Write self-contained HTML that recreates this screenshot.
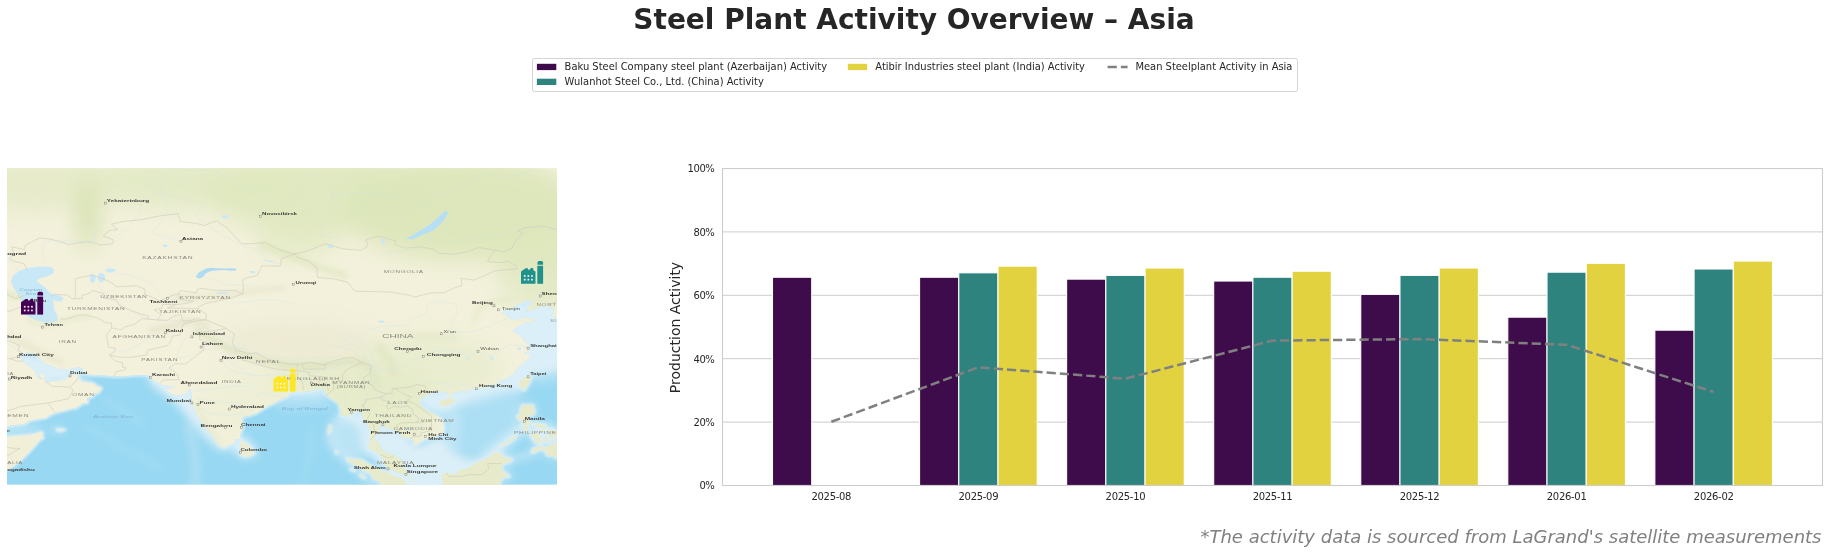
<!DOCTYPE html>
<html lang="en"><head><meta charset="utf-8"><title>Steel Plant Activity Overview – Asia</title>
<style>html,body{margin:0;padding:0;background:#fff}body{width:1828px;height:554px;overflow:hidden}svg{display:block;will-change:transform}</style>
</head><body>
<svg width="1828" height="554" viewBox="0 0 1828 554">
<rect width="1828" height="554" fill="#fff"/>
<text x="914" y="29.2" text-anchor="middle" font-family="DejaVu Sans, Liberation Sans, sans-serif" font-weight="bold" font-size="28" fill="#262626">Steel Plant Activity Overview – Asia</text>
<g id="legend" font-family="DejaVu Sans, Liberation Sans, sans-serif" font-size="9.94" fill="#262626">
<rect x="532.5" y="58.5" width="765" height="33" rx="2" ry="2" fill="#fff" stroke="#d4d4d4" stroke-width="1"/>
<rect x="536.9" y="63.8" width="19.4" height="6.3" fill="#3e0c4a"/>
<text x="564.6" y="70.2">Baku Steel Company steel plant (Azerbaijan) Activity</text>
<rect x="536.9" y="78.7" width="19.4" height="6.3" fill="#2f837f"/>
<text x="564.6" y="85">Wulanhot Steel Co., Ltd. (China) Activity</text>
<rect x="847.8" y="63.8" width="19.4" height="6.3" fill="#e2d240"/>
<text x="875.3" y="70.2">Atibir Industries steel plant (India) Activity</text>
<line x1="1107.6" x2="1127.6" y1="66.9" y2="66.9" stroke="#808080" stroke-width="2.5" stroke-dasharray="9.25 4"/>
<text x="1135.4" y="70.2">Mean Steelplant Activity in Asia</text>
</g>
<text x="1821.5" y="542.7" text-anchor="end" font-family="DejaVu Sans, Liberation Sans, sans-serif" font-style="italic" font-size="18" fill="#808080">*The activity data is sourced from LaGrand's satellite measurements</text>
<g id="map">
<defs>
<clipPath id="mclip"><rect x="7.0" y="168.2" width="550.0" height="316.40000000000003"/></clipPath>
<clipPath id="oclip"><path d="M-0.6,428.3 L7.0,426.3 L16.7,425.1 L25.0,423.8 L29.1,421.3 L37.4,419.3 L46.4,418.0 L49.2,415.5 L55.4,413.0 L61.6,411.4 L69.9,409.3 L77.5,407.6 L82.4,403.4 L87.9,403.0 L87.2,397.9 L92.7,397.0 L94.8,393.6 L99.0,392.7 L101.7,388.0 L96.2,385.4 L93.4,383.2 L87.9,382.3 L82.4,381.5 L79.6,379.3 L77.5,375.7 L78.6,371.3 L76.1,372.6 L74.8,374.0 L70.6,375.7 L64.4,379.7 L54.7,381.0 L46.4,381.5 L43.6,379.3 L45.0,377.1 L44.3,373.1 L42.3,372.2 L39.5,374.8 L39.5,377.9 L36.7,376.2 L35.3,371.3 L31.2,367.3 L25.7,364.1 L22.9,360.9 L20.1,357.7 L19.4,355.0 L24.3,354.5 L27.1,352.6 L34.7,354.0 L39.5,358.6 L45.0,364.1 L51.9,365.9 L58.2,369.1 L66.5,369.9 L72.7,368.6 L77.5,367.5 L82.4,368.2 L83.1,372.6 L87.9,374.4 L96.2,375.3 L107.3,375.7 L114.2,376.6 L119.0,376.6 L130.8,375.7 L141.1,375.3 L148.0,375.3 L149.4,377.5 L151.5,377.9 L155.0,381.9 L159.8,383.2 L163.9,385.8 L174.3,386.2 L172.2,388.0 L164.6,388.8 L170.2,393.6 L175.0,395.3 L179.2,395.7 L186.8,393.6 L188.1,390.6 L190.2,389.3 L191.6,394.0 L191.6,403.0 L195.1,411.4 L198.5,417.6 L202.7,423.8 L205.4,428.3 L212.3,435.3 L215.8,440.6 L220.0,446.3 L224.4,448.0 L228.9,445.0 L234.5,443.0 L235.9,439.0 L240.3,439.0 L240.3,434.1 L243.5,427.5 L242.1,419.7 L243.5,416.8 L249.0,416.0 L257.3,413.0 L264.2,408.4 L275.3,402.5 L281.5,399.6 L288.4,396.6 L289.8,393.2 L296.7,392.3 L303.6,391.9 L312.6,391.0 L317.4,388.8 L323.0,389.3 L325.7,394.4 L330.6,398.3 L338.2,403.8 L340.9,411.4 L340.3,415.5 L347.2,416.4 L353.4,413.5 L358.2,410.1 L361.0,413.5 L363.8,419.7 L367.2,423.8 L370.0,430.4 L370.0,438.2 L368.6,444.2 L367.9,448.3 L374.8,451.5 L380.4,454.7 L382.1,458.8 L384.5,464.4 L388.7,468.8 L394.9,471.6 L403.2,474.8 L408.0,475.2 L408.7,470.8 L403.2,468.4 L403.2,463.6 L401.1,458.8 L394.9,455.5 L388.7,452.7 L383.8,451.5 L380.4,446.3 L379.0,442.6 L374.1,438.2 L378.3,432.9 L379.7,429.2 L379.7,426.7 L383.1,425.9 L385.9,426.7 L385.9,429.2 L391.4,429.6 L397.6,432.0 L400.4,436.1 L404.6,438.2 L410.8,438.6 L414.2,440.6 L412.9,445.9 L417.0,444.6 L426.0,439.0 L429.4,438.6 L435.7,436.5 L441.9,434.5 L444.0,430.4 L444.0,424.6 L441.2,418.4 L436.4,415.1 L428.8,411.4 L423.9,408.0 L419.8,403.8 L420.5,399.1 L425.3,396.6 L427.4,394.9 L430.8,393.6 L435.0,392.3 L439.1,391.4 L442.6,392.3 L446.0,392.3 L447.4,393.2 L446.7,397.4 L450.2,397.4 L451.6,393.6 L461.2,391.4 L470.9,390.1 L473.7,387.5 L477.8,388.8 L486.8,387.1 L495.1,384.5 L504.8,379.3 L513.1,374.8 L515.2,372.2 L517.9,368.2 L522.8,363.6 L529.0,358.6 L531.1,355.0 L524.2,353.1 L531.1,350.3 L524.9,346.1 L531.1,346.6 L524.2,340.9 L520.0,334.7 L513.1,331.7 L513.1,330.3 L520.0,325.4 L524.9,322.9 L535.2,321.4 L535.9,318.9 L527.6,317.9 L522.8,316.9 L517.3,319.4 L511.0,319.9 L510.3,317.4 L512.4,316.3 L504.1,314.8 L502.0,312.3 L502.0,310.2 L507.6,310.2 L513.1,308.1 L515.2,306.1 L524.2,301.9 L526.2,300.8 L532.5,301.9 L527.6,307.6 L526.2,311.8 L531.8,310.2 L538.7,307.6 L547.7,306.1 L550.4,307.6 L553.9,308.1 L552.5,310.7 L554.6,312.3 L550.4,315.3 L555.3,316.9 L562.9,317.4 L569.8,317.4 L569.8,492.4 L-7.5,492.4 L-7.5,430.0Z"/></clipPath>
<filter id="b6" x="-20%" y="-20%" width="140%" height="140%"><feGaussianBlur stdDeviation="5"/></filter>
<filter id="b14" x="-30%" y="-30%" width="160%" height="160%"><feGaussianBlur stdDeviation="11"/></filter>
<filter id="b3" x="-20%" y="-20%" width="140%" height="140%"><feGaussianBlur stdDeviation="2.6"/></filter>
<filter id="b5" x="-20%" y="-20%" width="140%" height="140%"><feGaussianBlur stdDeviation="4.2"/></filter>
<filter id="b1" x="-5%" y="-5%" width="110%" height="110%"><feGaussianBlur stdDeviation="1.1"/></filter>
</defs>
<g clip-path="url(#mclip)">
<rect x="7.0" y="168.2" width="550.0" height="316.40000000000003" fill="#f3f1dc"/>
<g filter="url(#b14)">
<ellipse cx="34.0" cy="182.5" rx="60" ry="30" fill="#e3eac6" opacity="0.8"/>
<ellipse cx="87.9" cy="206.6" rx="9" ry="44" fill="#cddca3" opacity="0.95"/>
<ellipse cx="186.1" cy="182.5" rx="110" ry="26" fill="#e0e9c2" opacity="0.85"/>
<ellipse cx="324.4" cy="194.1" rx="120" ry="40" fill="#dfe8bf" opacity="0.9"/>
<ellipse cx="462.6" cy="208.8" rx="120" ry="52" fill="#dce6b9" opacity="0.95"/>
<ellipse cx="545.6" cy="254.9" rx="50" ry="50" fill="#dee7bd" opacity="0.9"/>
<ellipse cx="296.7" cy="239.3" rx="40" ry="18" fill="#dfe8bf" opacity="0.7"/>
<ellipse cx="421.1" cy="368.2" rx="80" ry="34" fill="#e6ebcb" opacity="0.7"/>
<ellipse cx="379.7" cy="407.2" rx="60" ry="40" fill="#e3e9c5" opacity="0.75"/>
<ellipse cx="310.5" cy="379.3" rx="45" ry="18" fill="#e3e9c5" opacity="0.75"/>
<ellipse cx="241.4" cy="403.0" rx="34" ry="34" fill="#ebeed2" opacity="0.6"/>
<ellipse cx="476.5" cy="472.4" rx="40" ry="30" fill="#e0e8c0" opacity="0.8"/>
<ellipse cx="379.7" cy="476.4" rx="40" ry="25" fill="#e0e8c0" opacity="0.8"/>
<ellipse cx="296.7" cy="340.4" rx="80" ry="18" fill="#ece8d2" opacity="0.8"/>
<ellipse cx="531.8" cy="294.9" rx="30" ry="25" fill="#e6ebcb" opacity="0.7"/>
</g>
<g clip-path="url(#oclip)">
<rect x="7.0" y="168.2" width="550.0" height="316.40000000000003" fill="#98d8f2"/>
<g filter="url(#b5)">
<g fill="#dbeff8">
<path d="M13.2,349.9 L47.8,356.8 L83.7,363.6 L81.7,371.3 L78.9,376.2 L77.5,381.5 L34.0,385.8 L13.2,368.2Z"/>
<path d="M146.7,374.4 L148.7,380.6 L152.9,386.2 L159.8,391.9 L168.8,397.9 L175.7,403.8 L182.6,411.4 L189.5,419.7 L196.4,427.9 L203.4,436.1 L210.3,442.2 L215.8,447.5 L222.0,450.3 L227.6,450.3 L234.5,444.2 L227.6,432.0 L206.8,415.5 L199.9,390.1 L172.2,379.3Z"/>
<path d="M231.0,437.7 L246.2,436.5 L249.7,442.2 L257.3,448.3 L257.3,453.9 L249.7,458.2 L240.7,458.2 L235.9,452.7 L231.7,447.5 L226.2,449.9 L222.7,449.9Z"/>
<path d="M284.9,394.9 L293.2,396.2 L303.6,395.7 L314.0,395.3 L323.7,395.7 L327.1,392.3 L324.4,385.8 L296.7,386.7 L284.9,391.9Z"/>
<path d="M337.5,413.0 L338.2,418.4 L345.1,421.3 L354.1,423.8 L358.9,427.9 L361.0,436.1 L361.7,444.2 L363.1,449.1 L367.9,453.1 L372.8,458.0 L376.9,462.8 L383.8,468.4 L390.7,473.2 L400.4,476.8 L410.8,480.4 L407.3,472.4 L386.6,452.3 L372.8,432.0 L365.8,411.4 L345.1,409.3Z"/>
<path d="M372.8,423.8 L390.0,423.8 L407.3,436.1 L417.7,446.3 L428.1,440.2 L443.3,436.1 L446.0,444.2 L448.1,450.3 L455.7,454.7 L464.7,458.4 L473.7,458.8 L482.0,456.3 L490.3,450.7 L498.6,448.7 L504.1,456.3 L490.3,472.4 L462.6,492.4 L393.5,492.4 L379.7,460.4Z"/>
<path d="M417.7,391.0 L417.7,405.1 L428.1,411.8 L439.1,414.3 L445.3,412.6 L450.9,409.3 L459.2,405.9 L469.5,400.8 L483.4,396.6 L497.2,393.2 L511.0,390.6 L521.4,390.6 L524.2,389.3 L531.8,377.1 L535.9,375.3 L549.1,373.5 L569.8,368.2 L569.8,300.3 L497.2,300.3 L497.2,354.5 L462.6,385.8Z"/>
<path d="M521.4,424.2 L549.1,424.2 L558.0,428.8 L558.0,441.0 L544.2,444.2 L538.0,444.2 L532.5,439.0 L527.6,432.9 L520.7,430.0Z"/>
<path d="M47.8,429.0 L58.2,428.1 L67.2,429.2 L65.8,431.6 L56.1,431.6 L47.8,430.8Z"/>
<path d="M-14.4,425.5 L20.1,423.0 L40.9,426.3 L43.6,431.2 L20.1,435.3 L-14.4,438.6Z" opacity="0.5"/>
<path d="M77.5,369.1 L90.7,374.4 L92.0,380.6 L77.5,380.6Z" opacity="0.5"/>
<path d="M331.3,421.8 L352.0,417.6 L369.3,423.8 L369.3,456.3 L352.0,460.4 L334.7,454.3 L327.8,440.2Z" opacity="0.5"/>
<path d="M272.5,396.6 L331.3,394.4 L332.6,407.2 L303.6,410.1 L276.0,408.9Z" opacity="0.32"/>
<path d="M438.4,411.4 L459.2,409.3 L461.2,423.8 L459.2,440.2 L455.7,452.3 L469.5,460.4 L435.0,456.3 L438.4,436.1Z" opacity="0.4"/>
<path d="M448.8,405.1 L469.5,406.3 L490.3,400.4 L511.0,395.3 L524.9,393.6 L524.9,385.8 L448.8,390.1Z" opacity="0.4"/>
<path d="M479.9,450.3 L493.7,442.2 L507.6,432.9 L516.6,423.8 L524.9,423.8 L517.9,440.2 L500.7,452.3 L483.4,458.4Z" opacity="0.4"/>
<path d="M445.3,450.3 L448.8,432.0 L448.8,415.5 L462.6,405.1 L490.3,396.6 L517.9,393.2 L517.9,415.5 L516.6,425.9 L507.6,436.1 L493.7,446.3 L476.5,454.3 L459.2,457.1Z" opacity="0.3"/>
<path d="M531.8,377.1 L569.8,363.6 L569.8,379.3 L538.7,384.9Z" opacity="0.3"/>
</g>
<g fill="none" stroke="#dbeff8" stroke-linecap="round" stroke-linejoin="round">
<path d="M187.5,424.6 L190.9,435.3 L193.7,448.3 L195.8,460.4 L195.8,472.4 L195.1,483.6 L194.4,492.4" stroke-width="5.0" opacity="0.55"/>
<path d="M336.1,420.1 L330.6,427.1 L329.2,435.3 L331.3,443.4 L336.8,451.5 L342.3,456.3 L346.5,457.6" stroke-width="4.5" opacity="0.8"/>
<path d="M347.2,460.4 L354.8,467.2 L362.4,474.0 L369.3,480.4 L377.6,486.4 L383.1,492.4" stroke-width="6.0" opacity="0.8"/>
<path d="M496.5,449.9 L506.2,442.2 L514.5,435.3 L520.7,430.4" stroke-width="9.0" opacity="0.9"/>
<path d="M511.0,459.6 L521.4,457.1 L531.1,453.9" stroke-width="5.0" opacity="0.8"/>
<path d="M517.9,424.6 L517.3,414.7 L520.0,404.6 L526.9,403.4 L534.5,405.5" stroke-width="3.0" opacity="0.7"/>
<path d="M534.5,405.5 L535.9,413.5 L530.4,419.7 L535.2,423.0 L547.7,425.9 L558.0,430.0" stroke-width="3.0" opacity="0.7"/>
<path d="M559.4,441.0 L565.0,450.3 L561.5,456.3 L556.0,458.8 L545.6,456.3 L544.2,450.7 L531.8,453.1 L531.8,448.3 L540.8,445.0" stroke-width="3.0" opacity="0.7"/>
<path d="M502.0,454.3 L513.8,459.6 L504.1,464.4 L502.7,471.2 L511.0,476.4 L501.4,478.4 L500.7,484.4 L493.7,488.4" stroke-width="4.0" opacity="0.8"/>
<path d="M103.1,398.7 L120.4,409.3 L134.2,417.6 L144.6,425.9" stroke-width="3.5" opacity="0.25"/>
<path d="M85.8,425.9 L103.1,436.1 L123.8,448.3 L144.6,458.4 L161.9,468.4" stroke-width="4.0" opacity="0.22"/>
<path d="M300.2,492.4 L307.1,468.4 L310.5,444.2 L310.5,423.8" stroke-width="3.5" opacity="0.2"/>
</g>
</g>
<path d="M-0.6,428.3 L7.0,426.3 L16.7,425.1 L25.0,423.8 L29.1,421.3 L37.4,419.3 L46.4,418.0 L49.2,415.5 L55.4,413.0 L61.6,411.4 L69.9,409.3 L77.5,407.6 L82.4,403.4 L87.9,403.0 L87.2,397.9 L92.7,397.0 L94.8,393.6 L99.0,392.7 L101.7,388.0 L96.2,385.4 L93.4,383.2 L87.9,382.3 L82.4,381.5 L79.6,379.3 L77.5,375.7 L78.6,371.3 L76.1,372.6 L74.8,374.0 L70.6,375.7 L64.4,379.7 L54.7,381.0 L46.4,381.5 L43.6,379.3 L45.0,377.1 L44.3,373.1 L42.3,372.2 L39.5,374.8 L39.5,377.9 L36.7,376.2 L35.3,371.3 L31.2,367.3 L25.7,364.1 L22.9,360.9 L20.1,357.7 L19.4,355.0 L24.3,354.5 L27.1,352.6 L34.7,354.0 L39.5,358.6 L45.0,364.1 L51.9,365.9 L58.2,369.1 L66.5,369.9 L72.7,368.6 L77.5,367.5 L82.4,368.2 L83.1,372.6 L87.9,374.4 L96.2,375.3 L107.3,375.7 L114.2,376.6 L119.0,376.6 L130.8,375.7 L141.1,375.3 L148.0,375.3 L149.4,377.5 L151.5,377.9 L155.0,381.9 L159.8,383.2 L163.9,385.8 L174.3,386.2 L172.2,388.0 L164.6,388.8 L170.2,393.6 L175.0,395.3 L179.2,395.7 L186.8,393.6 L188.1,390.6 L190.2,389.3 L191.6,394.0 L191.6,403.0 L195.1,411.4 L198.5,417.6 L202.7,423.8 L205.4,428.3 L212.3,435.3 L215.8,440.6 L220.0,446.3 L224.4,448.0 L228.9,445.0 L234.5,443.0 L235.9,439.0 L240.3,439.0 L240.3,434.1 L243.5,427.5 L242.1,419.7 L243.5,416.8 L249.0,416.0 L257.3,413.0 L264.2,408.4 L275.3,402.5 L281.5,399.6 L288.4,396.6 L289.8,393.2 L296.7,392.3 L303.6,391.9 L312.6,391.0 L317.4,388.8 L323.0,389.3 L325.7,394.4 L330.6,398.3 L338.2,403.8 L340.9,411.4 L340.3,415.5 L347.2,416.4 L353.4,413.5 L358.2,410.1 L361.0,413.5 L363.8,419.7 L367.2,423.8 L370.0,430.4 L370.0,438.2 L368.6,444.2 L367.9,448.3 L374.8,451.5 L380.4,454.7 L382.1,458.8 L384.5,464.4 L388.7,468.8 L394.9,471.6 L403.2,474.8 L408.0,475.2 L408.7,470.8 L403.2,468.4 L403.2,463.6 L401.1,458.8 L394.9,455.5 L388.7,452.7 L383.8,451.5 L380.4,446.3 L379.0,442.6 L374.1,438.2 L378.3,432.9 L379.7,429.2 L379.7,426.7 L383.1,425.9 L385.9,426.7 L385.9,429.2 L391.4,429.6 L397.6,432.0 L400.4,436.1 L404.6,438.2 L410.8,438.6 L414.2,440.6 L412.9,445.9 L417.0,444.6 L426.0,439.0 L429.4,438.6 L435.7,436.5 L441.9,434.5 L444.0,430.4 L444.0,424.6 L441.2,418.4 L436.4,415.1 L428.8,411.4 L423.9,408.0 L419.8,403.8 L420.5,399.1 L425.3,396.6 L427.4,394.9 L430.8,393.6 L435.0,392.3 L439.1,391.4 L442.6,392.3 L446.0,392.3 L447.4,393.2 L446.7,397.4 L450.2,397.4 L451.6,393.6 L461.2,391.4 L470.9,390.1 L473.7,387.5 L477.8,388.8 L486.8,387.1 L495.1,384.5 L504.8,379.3 L513.1,374.8 L515.2,372.2 L517.9,368.2 L522.8,363.6 L529.0,358.6 L531.1,355.0 L524.2,353.1 L531.1,350.3 L524.9,346.1 L531.1,346.6 L524.2,340.9 L520.0,334.7 L513.1,331.7 L513.1,330.3 L520.0,325.4 L524.9,322.9 L535.2,321.4 L535.9,318.9 L527.6,317.9 L522.8,316.9 L517.3,319.4 L511.0,319.9 L510.3,317.4 L512.4,316.3 L504.1,314.8 L502.0,312.3 L502.0,310.2 L507.6,310.2 L513.1,308.1 L515.2,306.1 L524.2,301.9 L526.2,300.8 L532.5,301.9 L527.6,307.6 L526.2,311.8 L531.8,310.2 L538.7,307.6 L547.7,306.1 L550.4,307.6 L553.9,308.1 L552.5,310.7 L554.6,312.3 L550.4,315.3 L555.3,316.9 L562.9,317.4 M-7.5,492.4 L-7.5,475.6 L1.5,472.4 L7.0,470.0 L16.0,464.4 L21.5,459.6 L27.1,454.3 L32.6,448.3 L37.4,443.0 L41.6,438.6 L43.6,438.4 L41.9,435.7 L43.0,432.6 L39.5,432.2 L34.7,434.1 L27.1,434.9 L20.1,435.7 L13.2,436.1 L7.0,436.9 L-7.5,438.6Z M240.3,441.4 L243.5,441.4 L247.6,444.6 L250.4,446.7 L254.2,451.1 L253.1,454.3 L249.0,455.9 L244.8,456.5 L241.7,455.9 L240.3,452.7 L240.0,448.7 L241.0,445.9 L239.7,443.4Z M346.5,458.0 L352.0,459.2 L361.7,459.6 L367.2,463.2 L371.4,465.6 L378.3,468.0 L382.4,471.2 L388.7,472.8 L395.6,476.4 L400.4,477.6 L404.6,480.0 L405.9,484.4 L410.8,488.4 L410.8,492.4 L381.0,492.4 L381.7,484.0 L377.6,480.8 L373.4,478.8 L370.7,474.0 L363.8,470.8 L359.6,467.6 L354.1,464.8 L347.9,460.8Z M441.9,492.4 L442.6,482.4 L441.9,478.8 L441.2,475.2 L444.7,472.8 L450.9,473.6 L455.7,474.4 L457.8,470.8 L464.7,468.8 L469.5,467.6 L475.8,462.8 L480.6,460.8 L486.1,458.8 L491.0,455.5 L495.1,452.3 L498.6,452.7 L502.0,454.7 L502.0,456.7 L506.9,457.6 L512.4,459.6 L508.3,462.4 L504.1,463.6 L501.4,466.0 L502.7,470.8 L504.1,472.4 L509.6,476.4 L503.4,477.2 L500.7,480.4 L500.0,484.4 L494.4,486.8 L493.1,492.4Z M439.5,402.1 L443.3,399.4 L448.8,398.5 L453.6,398.5 L455.7,400.4 L452.3,403.8 L448.8,405.5 L445.3,406.3 L439.8,405.1Z M524.9,376.8 L529.0,375.7 L531.4,377.1 L530.4,379.7 L529.0,383.2 L526.9,386.7 L523.8,390.4 L522.1,388.4 L519.3,386.2 L518.3,383.6 L520.0,380.6 L522.8,378.4Z M522.1,405.1 L526.9,405.1 L533.2,405.1 L533.8,409.3 L535.2,410.9 L533.2,414.7 L529.0,416.0 L528.3,419.7 L529.7,423.0 L533.8,423.8 L538.0,423.4 L540.8,424.6 L544.9,424.6 L546.3,427.9 L546.3,429.8 L544.2,428.3 L540.8,427.9 L535.9,427.1 L535.2,424.2 L530.4,424.2 L526.9,425.5 L522.4,424.4 L522.1,422.2 L524.2,420.9 L521.7,420.5 L518.6,419.7 L516.9,415.5 L520.0,415.1 L520.4,409.3Z M520.7,425.9 L524.9,426.1 L528.3,427.9 L528.0,430.8 L525.5,431.0 L523.5,429.2Z M498.6,446.7 L502.0,444.2 L506.9,441.4 L511.0,438.6 L513.8,434.9 L515.2,434.9 L515.2,437.7 L511.7,440.2 L509.0,442.6 L504.1,445.0 L500.7,446.7Z M531.1,432.4 L535.9,433.7 L539.4,434.1 L538.7,436.1 L535.9,437.7 L531.8,438.4 L531.4,436.1Z M534.5,440.4 L537.6,436.5 L540.8,436.3 L542.5,436.9 L540.1,440.2 L540.1,443.8 L538.0,444.0 L535.9,442.6Z M541.1,442.4 L542.8,439.8 L545.6,435.1 L546.3,436.1 L544.6,440.2 L542.1,442.4Z M547.7,429.8 L554.6,429.8 L556.7,432.0 L566.3,435.3 L566.3,436.5 L554.6,436.5 L552.9,434.9 L552.5,437.1 L554.2,439.2 L552.5,440.2 L550.8,438.6 L548.4,436.5 L548.4,434.3 L551.8,434.1 L551.1,432.4 L548.0,431.2Z M531.4,452.3 L532.5,448.7 L537.3,447.7 L541.5,445.5 L544.2,447.9 L547.7,446.1 L551.1,444.2 L556.0,444.0 L555.3,441.2 L566.3,441.0 L566.3,458.4 L555.3,458.0 L553.9,455.9 L547.0,455.5 L545.6,452.7 L547.0,450.7 L542.1,450.3 L541.5,449.1 L538.0,450.3 L533.8,452.7Z M544.2,441.0 L547.0,439.6 L549.7,440.4 L549.1,441.6 L545.6,441.8Z M540.1,429.8 L543.5,430.2 L545.9,432.4 L542.8,432.2 L540.1,431.6Z M56.8,429.6 L60.2,429.2 L65.1,429.8 L61.6,430.8 L57.5,430.6Z M329.9,425.5 L331.3,426.3 L330.9,430.0 L329.5,433.7 L328.5,433.7 L328.8,430.0Z M336.1,451.1 L337.8,451.9 L337.1,453.3 L335.8,452.7Z M350.6,468.8 L355.5,470.4 L354.1,471.0 L350.3,469.6Z M359.6,474.8 L362.4,474.6 L365.5,478.0 L363.1,478.2Z M407.3,475.6 L411.5,475.6 L412.2,476.8 L409.4,477.2Z M410.1,480.0 L414.2,480.8 L412.9,482.0 L410.1,481.6Z M435.0,463.6 L437.7,464.4 L437.1,466.0 L434.6,465.2Z" fill="none" stroke="#dbeff8" stroke-width="3.2" stroke-linejoin="round" filter="url(#b1)" opacity="0.9"/>
</g>
<g fill="#e7ebcc">
<path d="M-7.5,492.4 L-7.5,475.6 L1.5,472.4 L7.0,470.0 L16.0,464.4 L21.5,459.6 L27.1,454.3 L32.6,448.3 L37.4,443.0 L41.6,438.6 L43.6,438.4 L41.9,435.7 L43.0,432.6 L39.5,432.2 L34.7,434.1 L27.1,434.9 L20.1,435.7 L13.2,436.1 L7.0,436.9 L-7.5,438.6Z" fill="#f1efd8"/>
<path d="M240.3,441.4 L243.5,441.4 L247.6,444.6 L250.4,446.7 L254.2,451.1 L253.1,454.3 L249.0,455.9 L244.8,456.5 L241.7,455.9 L240.3,452.7 L240.0,448.7 L241.0,445.9 L239.7,443.4Z" fill="#ecedd2"/>
<path d="M346.5,458.0 L352.0,459.2 L361.7,459.6 L367.2,463.2 L371.4,465.6 L378.3,468.0 L382.4,471.2 L388.7,472.8 L395.6,476.4 L400.4,477.6 L404.6,480.0 L405.9,484.4 L410.8,488.4 L410.8,492.4 L381.0,492.4 L381.7,484.0 L377.6,480.8 L373.4,478.8 L370.7,474.0 L363.8,470.8 L359.6,467.6 L354.1,464.8 L347.9,460.8Z"/>
<path d="M441.9,492.4 L442.6,482.4 L441.9,478.8 L441.2,475.2 L444.7,472.8 L450.9,473.6 L455.7,474.4 L457.8,470.8 L464.7,468.8 L469.5,467.6 L475.8,462.8 L480.6,460.8 L486.1,458.8 L491.0,455.5 L495.1,452.3 L498.6,452.7 L502.0,454.7 L502.0,456.7 L506.9,457.6 L512.4,459.6 L508.3,462.4 L504.1,463.6 L501.4,466.0 L502.7,470.8 L504.1,472.4 L509.6,476.4 L503.4,477.2 L500.7,480.4 L500.0,484.4 L494.4,486.8 L493.1,492.4Z"/>
<path d="M439.5,402.1 L443.3,399.4 L448.8,398.5 L453.6,398.5 L455.7,400.4 L452.3,403.8 L448.8,405.5 L445.3,406.3 L439.8,405.1Z"/>
<path d="M524.9,376.8 L529.0,375.7 L531.4,377.1 L530.4,379.7 L529.0,383.2 L526.9,386.7 L523.8,390.4 L522.1,388.4 L519.3,386.2 L518.3,383.6 L520.0,380.6 L522.8,378.4Z"/>
<path d="M522.1,405.1 L526.9,405.1 L533.2,405.1 L533.8,409.3 L535.2,410.9 L533.2,414.7 L529.0,416.0 L528.3,419.7 L529.7,423.0 L533.8,423.8 L538.0,423.4 L540.8,424.6 L544.9,424.6 L546.3,427.9 L546.3,429.8 L544.2,428.3 L540.8,427.9 L535.9,427.1 L535.2,424.2 L530.4,424.2 L526.9,425.5 L522.4,424.4 L522.1,422.2 L524.2,420.9 L521.7,420.5 L518.6,419.7 L516.9,415.5 L520.0,415.1 L520.4,409.3Z"/>
<path d="M520.7,425.9 L524.9,426.1 L528.3,427.9 L528.0,430.8 L525.5,431.0 L523.5,429.2Z"/>
<path d="M498.6,446.7 L502.0,444.2 L506.9,441.4 L511.0,438.6 L513.8,434.9 L515.2,434.9 L515.2,437.7 L511.7,440.2 L509.0,442.6 L504.1,445.0 L500.7,446.7Z"/>
<path d="M531.1,432.4 L535.9,433.7 L539.4,434.1 L538.7,436.1 L535.9,437.7 L531.8,438.4 L531.4,436.1Z"/>
<path d="M534.5,440.4 L537.6,436.5 L540.8,436.3 L542.5,436.9 L540.1,440.2 L540.1,443.8 L538.0,444.0 L535.9,442.6Z"/>
<path d="M541.1,442.4 L542.8,439.8 L545.6,435.1 L546.3,436.1 L544.6,440.2 L542.1,442.4Z"/>
<path d="M547.7,429.8 L554.6,429.8 L556.7,432.0 L566.3,435.3 L566.3,436.5 L554.6,436.5 L552.9,434.9 L552.5,437.1 L554.2,439.2 L552.5,440.2 L550.8,438.6 L548.4,436.5 L548.4,434.3 L551.8,434.1 L551.1,432.4 L548.0,431.2Z"/>
<path d="M531.4,452.3 L532.5,448.7 L537.3,447.7 L541.5,445.5 L544.2,447.9 L547.7,446.1 L551.1,444.2 L556.0,444.0 L555.3,441.2 L566.3,441.0 L566.3,458.4 L555.3,458.0 L553.9,455.9 L547.0,455.5 L545.6,452.7 L547.0,450.7 L542.1,450.3 L541.5,449.1 L538.0,450.3 L533.8,452.7Z"/>
<path d="M544.2,441.0 L547.0,439.6 L549.7,440.4 L549.1,441.6 L545.6,441.8Z"/>
<path d="M540.1,429.8 L543.5,430.2 L545.9,432.4 L542.8,432.2 L540.1,431.6Z"/>
<path d="M56.8,429.6 L60.2,429.2 L65.1,429.8 L61.6,430.8 L57.5,430.6Z" fill="#f1efd8"/>
<path d="M329.9,425.5 L331.3,426.3 L330.9,430.0 L329.5,433.7 L328.5,433.7 L328.8,430.0Z"/>
<path d="M336.1,451.1 L337.8,451.9 L337.1,453.3 L335.8,452.7Z"/>
<path d="M350.6,468.8 L355.5,470.4 L354.1,471.0 L350.3,469.6Z"/>
<path d="M359.6,474.8 L362.4,474.6 L365.5,478.0 L363.1,478.2Z"/>
<path d="M407.3,475.6 L411.5,475.6 L412.2,476.8 L409.4,477.2Z"/>
<path d="M410.1,480.0 L414.2,480.8 L412.9,482.0 L410.1,481.6Z"/>
<path d="M435.0,463.6 L437.7,464.4 L437.1,466.0 L434.6,465.2Z"/>
</g>
<g fill="#c9e8f7">
<path d="M18.9,271.2 L27.1,267.9 L40.6,266.5 L51.4,267.2 L54.1,269.9 L52.8,274.0 L46.0,276.7 L40.6,278.0 L36.5,280.4 L40.6,284.1 L46.0,288.2 L49.4,292.2 L52.8,294.3 L59.6,295.6 L63.6,298.3 L60.9,301.7 L55.5,301.0 L53.1,298.6 L53.5,302.4 L54.1,309.1 L56.9,314.6 L58.2,320.0 L54.1,322.7 L46.0,322.7 L37.9,320.7 L31.1,317.9 L24.4,314.6 L21.7,309.1 L21.5,305.6 L35.5,303.6 L21.0,301.8 L17.6,294.3 L12.9,286.8 L10.8,280.7 L13.5,275.3Z"/>
<path d="M107.3,268.6 L114.2,268.6 L116.2,271.0 L110.0,272.7 L105.2,271.0Z"/>
<path d="M90.3,275.0 L93.4,274.1 L95.8,276.7 L95.2,280.6 L93.1,283.2 L90.3,281.8 L90.0,278.4Z"/>
<path d="M98.3,273.5 L102.4,273.0 L105.2,276.1 L104.8,280.1 L101.7,282.6 L98.6,281.2 L97.9,277.3Z"/>
<path d="M195.8,276.7 L199.2,278.7 L202.7,277.3 L206.1,273.3 L211.0,271.0 L217.2,270.4 L224.1,270.1 L231.0,270.7 L235.9,270.4 L236.5,268.6 L231.7,268.3 L224.8,268.6 L217.9,268.3 L211.0,267.8 L206.1,268.6 L201.3,271.0 L197.8,273.3Z" fill="#b0dbf3"/>
<path d="M215.1,292.8 L222.0,291.4 L229.6,292.0 L228.2,293.6 L220.6,294.1Z"/>
<path d="M405.9,238.6 L411.5,239.6 L418.4,236.7 L425.3,233.4 L432.9,230.8 L438.4,226.1 L444.0,220.0 L448.1,213.1 L446.0,210.2 L441.9,213.8 L437.1,218.6 L430.8,224.1 L424.6,228.1 L417.7,232.1 L411.5,236.0Z" fill="#b4dff5"/>
<path d="M376.9,321.4 L381.7,319.9 L385.2,321.4 L381.7,322.9Z"/>
<path d="M249.7,271.0 L254.5,271.0 L255.2,273.3 L251.1,273.3Z"/>
<path d="M263.5,260.4 L273.2,261.0 L272.5,262.1 L264.9,261.5Z"/>
<path d="M381.7,238.6 L384.5,239.3 L384.5,245.6 L382.4,245.0Z"/>
<path d="M327.1,245.6 L333.3,245.6 L332.6,248.1 L327.8,247.8Z"/>
<path d="M222.0,215.2 L228.9,215.2 L227.6,218.6 L222.7,217.9Z"/>
<path d="M162.6,244.4 L168.1,245.0 L166.7,246.9 L163.3,246.9Z"/>
<path d="M490.3,356.8 L493.7,357.7 L493.1,360.0 L490.3,359.5Z"/>
<path d="M466.8,357.7 L470.2,357.7 L469.5,359.5 L466.8,359.5Z"/>
<path d="M517.3,347.5 L521.4,348.0 L520.7,349.9 L517.9,349.9Z"/>
<path d="M405.2,427.1 L409.4,428.8 L411.5,430.4 L408.7,430.4 L405.2,428.3Z"/>
</g>
<g fill="none" stroke-linejoin="round" stroke-linecap="round" filter="url(#b3)">
<path d="M196.4,330.8 L213.7,340.4 L231.0,349.9 L248.3,356.8 L269.0,362.3 L289.8,365.5 L310.5,365.9 L331.3,364.5 L348.6,361.4 L362.4,363.6" stroke="#dbe2bd" stroke-width="5" opacity="0.85"/>
<path d="M362.4,363.6 L372.8,372.6 L376.2,383.6" stroke="#dde4c0" stroke-width="8" opacity="0.6"/>
<path d="M379.7,347.5 L390.0,361.4 L393.5,372.6" stroke="#dde4c0" stroke-width="8" opacity="0.6"/>
<path d="M151.5,330.8 L172.2,325.9 L189.5,320.9 L206.8,325.9" stroke="#e4e0c6" stroke-width="6" opacity="0.7"/>
<path d="M172.2,297.6 L199.9,297.6 L227.6,294.9 L255.2,290.6 L282.9,287.9" stroke="#e2e3c6" stroke-width="5" opacity="0.6"/>
<path d="M262.1,245.6 L289.8,254.9 L317.4,266.9 L345.1,275.6" stroke="#dbe4bb" stroke-width="6" opacity="0.6"/>
<path d="M9.8,335.6 L27.1,345.2 L44.3,354.5 L61.6,362.3" stroke="#e5e2c8" stroke-width="6" opacity="0.6"/>
<path d="M27.1,320.9 L47.8,325.9 L68.5,319.4 L89.3,316.9" stroke="#dde4c0" stroke-width="3" opacity="0.7"/>
<path d="M196.4,403.0 L203.4,419.7 L213.7,434.1 L220.6,444.2" stroke="#dde5c0" stroke-width="3" opacity="0.7"/>
<path d="M407.3,335.6 L435.0,336.6 L455.7,338.0" stroke="#dde5c0" stroke-width="4" opacity="0.6"/>
<path d="M473.0,320.9 L479.9,308.1 L493.7,301.3 L507.6,299.2" stroke="#dee6c2" stroke-width="4" opacity="0.6"/>
<path d="M-28.3,300.3 L-0.6,292.2 L20.1,297.6" stroke="#dbe4bb" stroke-width="5" opacity="0.7"/>
</g>
<g fill="none" stroke-linejoin="round">
<path stroke="#c9e5f2" stroke-width="0.55" opacity="0.55" d="M-0.6,251.9 L6.3,257.3 L14.6,266.9 L20.1,271.5 M96.2,229.5 L93.4,241.2 L68.5,240.6 L43.6,241.2 L43.0,254.9 L47.1,266.9 M262.1,229.5 L261.4,215.9 L269.0,205.2 L255.2,194.1 L231.0,178.6 L213.7,170.4 L186.1,169.6 L165.3,168.0 M279.4,263.9 L265.6,259.8 L259.4,249.4 L243.5,246.3 L220.0,234.1 L195.8,215.9 L203.4,205.2 L182.6,197.8 L160.5,192.6 L165.3,168.0 M179.2,241.2 L168.8,238.0 L151.5,232.8 L166.0,216.6 L168.8,208.1 L160.5,192.6 M116.9,236.0 L128.0,228.1 L140.4,212.3 L141.1,202.3 L160.5,192.6 M340.9,238.0 L320.9,236.0 L320.2,224.8 L330.6,208.8 L333.3,194.1 L314.0,176.2 L303.6,162.1 M409.4,234.1 L404.6,228.8 L400.4,219.3 L391.4,207.4 L399.0,195.6 L365.8,192.6 L333.3,194.1 M433.6,223.4 L419.8,203.0 L435.7,195.6 L466.1,182.5 L482.7,172.9 L504.1,177.0 L520.7,175.3 L538.7,166.3 M379.7,253.1 L403.9,251.2 L422.5,246.9 L431.5,237.3 L424.6,234.1 M502.7,251.9 L511.0,248.8 L517.9,238.6 L527.6,227.5 L542.8,226.1 L557.4,229.5 L566.3,242.5 M448.8,242.5 L473.0,237.3 L493.7,236.0 L511.0,230.8 L527.6,227.5 M547.7,275.6 L557.4,276.7 L566.3,272.7 M542.8,290.1 L538.7,294.9 L533.2,301.3 M365.8,330.8 L381.0,326.3 L393.5,326.3 L405.9,325.4 L412.2,318.9 L426.0,313.3 L428.1,304.0 L439.8,301.9 L455.7,304.0 L457.1,313.3 L451.6,325.9 L450.9,332.7 L474.4,331.3 L490.3,325.9 L504.1,319.4 L511.0,316.9 M345.1,335.6 L360.3,340.4 L372.8,354.5 L374.1,365.9 L381.7,368.6 L391.4,370.4 L400.4,365.9 L411.5,360.0 L425.3,356.3 L437.7,350.8 L457.8,351.3 L468.9,356.3 L478.5,351.7 L490.3,355.9 L497.2,352.2 L509.0,344.7 L517.9,345.2 L529.0,347.5 M421.1,379.3 L435.0,383.6 L448.8,384.1 L457.8,383.6 L470.9,385.8 M341.6,338.0 L361.0,349.9 L372.1,365.9 L379.7,385.8 L381.0,392.3 L380.4,397.4 L388.0,400.4 L394.2,406.3 L407.3,405.9 L412.9,413.5 L418.4,418.4 L420.5,425.9 L414.2,432.0 L421.1,439.0 M331.3,345.2 L352.0,349.9 L367.9,361.4 L371.4,377.1 L369.3,390.1 L363.1,405.1 L363.1,413.5 M362.4,372.6 L357.5,381.5 L352.0,390.1 L345.1,394.4 L344.4,403.0 L347.2,409.3 L347.9,414.7 M380.4,416.8 L382.4,421.8 L383.1,425.5 M255.2,352.2 L276.0,357.7 L303.6,357.7 L324.4,357.7 L343.7,356.8 L347.2,362.7 L338.2,365.9 L322.3,371.7 L309.1,372.6 L308.5,379.3 L314.0,383.6 M233.8,352.2 L228.9,355.0 L229.6,361.4 L240.7,368.6 L247.6,373.1 L254.5,375.3 L262.1,375.7 L277.3,374.4 L289.8,375.7 L296.0,377.9 L303.6,381.5 L314.0,383.6 L315.4,387.5 M224.8,352.6 L222.0,360.5 L226.9,367.3 L237.9,372.6 L254.5,375.3 M197.1,399.1 L213.7,400.8 L227.6,403.0 L241.4,403.8 L248.3,408.9 L253.8,411.8 M197.8,407.6 L210.3,413.5 L220.6,414.3 L231.0,415.5 L241.4,413.0 L247.6,416.0 M253.1,387.1 L237.9,385.8 L220.6,388.0 L206.8,389.3 L193.0,391.4 M255.2,396.6 L265.6,391.9 L272.5,395.3 L282.9,397.0 L287.0,397.4 M248.3,347.5 L234.5,340.4 L217.2,332.2 L204.7,327.8 L191.6,331.3 L188.1,336.1 L182.6,342.3 L178.5,350.8 L177.1,359.1 L170.2,362.7 L163.9,365.9 L159.8,372.6 L160.5,376.2 L155.0,381.5 M248.3,349.9 L231.0,347.0 L217.2,348.9 L204.7,349.4 L194.4,354.5 L181.2,357.7 L177.1,359.1 M182.6,320.9 L168.8,319.9 L157.0,319.9 L148.0,318.9 L134.2,312.8 L123.2,306.6 L112.1,299.2 L107.3,293.9 L100.3,289.0 L98.3,284.6 M189.5,300.8 L175.7,302.4 L166.7,304.0 L163.3,299.2 L158.4,292.2 L151.5,284.0 L141.1,279.5 L128.0,275.0 L116.2,272.7 M251.8,285.7 L241.4,284.6 L224.1,284.6 L217.2,281.2 L205.4,277.3 M231.0,302.9 L244.8,302.4 L262.1,299.8 L279.4,300.3 L293.2,302.9 L298.8,305.5 M158.4,333.7 L144.6,341.4 L133.5,347.5 L123.8,352.2 L115.5,349.9 M-0.6,338.0 L6.3,342.8 L13.2,347.5 L17.4,350.8 L22.9,353.6 M-0.6,458.4 L2.9,466.4 L1.5,470.8 L-7.5,474.0"/>
<path stroke="#cfcbbb" stroke-width="0.6" d="M27.1,270.4 L24.3,263.9 L13.2,261.0 L9.8,258.6 L13.9,253.7 L11.8,246.9 L24.3,249.4 L25.7,245.0 L39.5,238.0 L51.2,239.3 L58.2,241.2 L68.5,244.4 L85.8,241.8 L93.4,242.5 L100.3,245.0 L112.8,243.7 L113.5,239.9 L103.1,236.0 L110.0,230.1 L117.6,229.5 L111.4,224.1 L123.8,221.4 L139.1,220.0 L159.8,215.9 L177.8,213.8 L180.5,221.4 L196.4,223.4 L204.0,225.5 L217.2,220.7 L220.0,223.4 L226.9,227.5 L241.4,243.7 L251.1,243.7 L264.9,242.5 L277.3,248.8 L291.9,253.7 L295.3,253.9 M295.3,253.9 L281.5,258.6 L280.1,266.3 L262.1,265.7 L257.3,275.6 L246.9,277.8 L242.8,279.5 L243.5,289.5 L242.8,293.9 M242.8,293.9 L230.3,298.2 L220.0,300.3 L206.1,303.4 L198.5,306.6 L197.8,308.7 L206.1,313.8 L206.1,319.9 M206.1,319.9 L213.0,322.9 L226.2,328.3 L234.5,334.2 L232.4,342.3 L235.9,349.9 L248.3,353.6 L255.9,353.1 L269.0,359.5 L280.8,362.3 L289.1,363.9 L297.4,364.1 L302.2,363.6 L310.5,362.3 L321.6,364.5 L325.0,364.5 L334.7,360.5 L345.1,358.2 L353.4,357.3 L361.0,362.3 M248.3,353.6 L242.1,360.0 L249.7,361.8 L264.2,366.4 L276.0,369.1 L297.4,370.8 L297.4,364.1 M302.2,363.6 L303.6,369.1 L324.4,369.1 L325.0,364.5 M361.0,362.3 L370.7,365.5 L370.7,373.1 L363.1,377.9 L364.5,381.9 L372.1,384.9 L374.8,389.7 L381.0,392.3 L387.6,393.6 M387.6,393.6 L392.1,393.6 L392.1,388.4 L394.5,388.4 L400.4,388.0 L407.3,387.5 L412.9,386.2 L417.0,384.5 L425.3,386.2 L426.0,390.1 L430.8,391.9 L435.0,392.3 M361.0,362.3 L353.4,366.8 L345.8,369.9 L342.3,376.2 L343.0,380.6 L333.3,381.5 L334.0,389.3 L328.5,393.2 L326.4,395.7 M303.6,390.6 L302.9,384.9 L301.5,380.1 L297.4,378.8 L297.4,373.5 L299.5,370.4 L309.1,372.6 L309.1,375.7 L327.1,377.1 L325.7,380.1 L318.8,381.0 L318.8,383.6 L321.6,385.8 L323.0,383.6 L326.4,382.8 L328.5,390.6 M159.8,383.2 L163.3,380.1 L179.2,379.7 L177.1,374.0 L172.9,370.4 L168.8,368.2 L175.0,363.6 L185.4,364.1 L192.3,359.1 L199.2,353.6 L204.0,349.4 L203.4,342.8 L208.9,343.7 L199.9,339.5 L199.2,332.7 L213.7,330.8 L226.2,328.3 M206.1,319.9 L193.0,321.4 L183.3,323.9 L180.5,331.3 L179.8,335.1 L172.2,336.1 L171.6,339.9 L167.4,345.6 L157.0,348.0 L147.4,350.3 L146.7,355.0 L131.5,357.3 L120.4,357.3 L109.3,355.2 M109.3,355.2 L115.5,360.9 L122.5,362.7 L122.5,367.3 L125.9,367.7 L125.2,369.9 L116.2,371.7 L114.2,376.2 M109.3,355.2 L115.5,350.8 L114.9,348.0 L108.6,347.5 L107.3,339.9 L106.6,335.1 L111.4,327.8 M111.4,327.8 L111.4,322.9 L105.9,322.9 L98.3,318.4 L85.1,314.8 L77.5,315.3 L67.2,318.9 L60.9,319.1 M111.4,327.8 L121.1,329.8 L125.2,326.8 L134.2,324.4 L142.5,318.4 L148.0,319.1 L157.0,319.9 L167.4,320.4 L173.6,316.3 L181.2,314.3 L182.6,320.9 L190.2,320.9 L195.1,318.6 L206.1,319.9 M148.0,319.1 L148.7,315.8 L141.8,314.3 L132.1,311.0 L119.7,305.5 L116.2,299.8 L103.8,298.2 L103.8,293.9 L93.4,290.6 L87.9,293.9 L81.7,295.5 L82.4,298.7 L75.4,298.7 L75.4,278.4 M75.4,298.7 L72.0,298.7 L67.2,294.9 L54.7,294.4 L51.2,296.0 M75.4,278.4 L92.7,275.0 L110.0,281.8 L116.9,286.8 L137.0,285.7 L145.3,289.5 L144.6,294.9 L148.0,295.5 L158.4,300.3 L159.1,301.3 L166.0,298.2 L173.6,294.9 L178.8,293.6 M178.8,293.6 L180.5,290.6 L196.4,292.8 L197.1,289.5 L202.0,288.4 L212.3,290.1 L235.2,290.6 L242.8,293.9 M178.8,293.6 L179.2,299.2 L187.5,300.3 L193.7,301.3 L186.1,303.4 L176.4,304.5 L167.4,308.1 L176.4,308.1 L197.8,308.7 M157.0,319.9 L161.2,314.8 L154.3,309.7 L161.9,308.1 L162.6,304.5 L176.4,304.5 M295.3,253.9 L308.5,250.6 L325.7,243.7 L342.3,248.8 L361.0,250.3 L367.9,245.6 L365.8,239.9 L379.0,236.0 L394.9,240.6 L395.6,245.0 L405.2,248.1 L421.1,246.9 L434.3,249.4 L438.4,253.1 L453.6,254.3 L467.5,251.9 L478.5,247.5 L495.1,250.0 M295.3,253.9 L296.7,257.3 L308.5,261.0 L316.7,267.5 L317.4,277.3 L334.7,279.0 L347.9,282.3 L354.8,291.2 L379.7,291.7 L392.1,292.2 L410.8,295.5 L414.2,297.1 L431.5,292.8 L444.0,292.8 L455.7,287.3 L461.9,285.7 L461.2,278.4 L473.7,280.1 L483.4,276.1 L494.4,271.0 L517.3,268.6 L515.9,265.7 L507.6,261.0 L502.7,262.7 L487.5,261.5 L490.3,256.1 L495.1,250.0 M495.1,250.0 L503.4,251.9 L512.4,248.1 L513.1,245.0 L522.8,232.8 L517.9,230.8 L526.2,227.5 L542.8,226.1 L557.0,229.5 L566.3,239.3 M548.4,305.5 L552.5,302.9 L557.0,300.8 L566.3,297.6 M387.6,393.6 L380.4,397.2 L372.8,398.3 L365.8,400.0 L364.5,405.1 L361.7,405.1 L370.0,413.9 L367.2,418.9 L373.4,424.2 L374.1,429.6 L376.9,432.9 L371.4,438.6 L370.0,440.2 M380.4,397.2 L383.1,400.8 L388.0,400.8 L386.6,407.2 L388.0,409.3 L394.2,406.3 L400.4,407.2 L407.3,405.9 L412.9,409.7 L412.9,413.9 L418.4,417.2 L417.7,422.2 L415.6,422.4 M394.5,388.4 L399.7,391.4 L406.6,395.3 L411.5,397.0 L407.3,400.8 L415.6,404.2 L425.3,411.6 L431.5,416.0 L431.5,420.9 M431.5,420.9 L421.1,422.2 L415.6,422.4 L400.4,423.0 L396.3,425.5 L399.7,433.3 M431.5,420.9 L431.5,430.4 L420.5,433.3 L421.1,436.1 L414.2,436.5 L410.4,438.6 M380.4,454.7 L387.3,457.6 L392.1,457.1 L394.2,455.5 M446.0,472.4 L448.8,476.4 L461.2,476.4 L469.5,474.4 L482.0,474.8 L488.9,468.8 L487.5,463.6 L501.4,463.6 M24.3,354.5 L18.1,349.9 L19.4,345.2 L7.0,340.4 L2.2,335.6 M19.4,354.7 L18.1,356.8 L9.8,358.6 L2.9,358.6 M22.9,361.1 L17.4,361.1 L9.8,358.6 M39.5,377.9 L42.3,378.8 M45.0,381.0 L51.9,386.2 L69.9,387.1 L73.4,390.1 L68.5,398.7 L47.8,403.0 L21.5,406.3 L9.1,410.5 L-0.6,410.1 M69.9,387.1 L75.4,381.5 L78.2,377.5 M47.8,403.0 L55.4,412.8 M26.4,313.5 L20.1,307.1 L9.8,311.2 L2.9,310.7 M24.3,295.7 L15.3,298.7 L9.1,295.5 L2.9,293.3 M-0.6,445.9 L13.2,448.3 L20.1,448.3 L-0.6,460.4"/>
</g>
<g font-family="Liberation Sans, Arial, sans-serif" font-size="4" fill="#8c8b80" letter-spacing="0.4">
<text x="142.2" y="259.0" textLength="51.1" lengthAdjust="spacingAndGlyphs">KAZAKHSTAN</text>
<text x="100.2" y="297.5" textLength="47.2" lengthAdjust="spacingAndGlyphs">UZBEKISTAN</text>
<text x="179.6" y="298.6" textLength="51.3" lengthAdjust="spacingAndGlyphs">KYRGYZSTAN</text>
<text x="67.0" y="309.6" textLength="58.2" lengthAdjust="spacingAndGlyphs">TURKMENISTAN</text>
<text x="159.0" y="312.8" textLength="42.4" lengthAdjust="spacingAndGlyphs">TAJIKISTAN</text>
<text x="58.8" y="342.8" textLength="18.0" lengthAdjust="spacingAndGlyphs">IRAN</text>
<text x="112.5" y="337.6" textLength="53.3" lengthAdjust="spacingAndGlyphs">AFGHANISTAN</text>
<text x="141.2" y="361.0" textLength="36.9" lengthAdjust="spacingAndGlyphs">PAKISTAN</text>
<text x="255.8" y="363.4" textLength="25.2" lengthAdjust="spacingAndGlyphs">NEPAL</text>
<text x="-33.2" y="375.4" textLength="47.0" lengthAdjust="spacingAndGlyphs">SAUDI ARABIA</text>
<text x="221.7" y="382.5" textLength="19.9" lengthAdjust="spacingAndGlyphs">INDIA</text>
<text x="72.2" y="395.7" textLength="22.4" lengthAdjust="spacingAndGlyphs">OMAN</text>
<text x="2.1" y="417.2" textLength="27.1" lengthAdjust="spacingAndGlyphs">YEMEN</text>
<text x="-8.7" y="463.9" textLength="31.7" lengthAdjust="spacingAndGlyphs">SOMALIA</text>
<text x="383.8" y="272.5" textLength="39.9" lengthAdjust="spacingAndGlyphs">MONGOLIA</text>
<text x="536.4" y="306.0" textLength="53.4" lengthAdjust="spacingAndGlyphs">NORTH KOREA</text>
<text x="550.3" y="322.2" textLength="33.1" lengthAdjust="spacingAndGlyphs">SOUTH KOREA</text>
<text x="286.4" y="379.7" textLength="53.5" lengthAdjust="spacingAndGlyphs">BANGLADESH</text>
<text x="332.2" y="383.7" textLength="38.4" lengthAdjust="spacingAndGlyphs">MYANMAR</text>
<text x="336.8" y="388.0" textLength="29.2" lengthAdjust="spacingAndGlyphs">(BURMA)</text>
<text x="388.0" y="403.7" textLength="20.3" lengthAdjust="spacingAndGlyphs">LAOS</text>
<text x="374.6" y="416.6" textLength="37.4" lengthAdjust="spacingAndGlyphs">THAILAND</text>
<text x="420.6" y="421.8" textLength="33.8" lengthAdjust="spacingAndGlyphs">VIETNAM</text>
<text x="393.6" y="429.8" textLength="39.3" lengthAdjust="spacingAndGlyphs">CAMBODIA</text>
<text x="514.0" y="434.1" textLength="47.8" lengthAdjust="spacingAndGlyphs">PHILIPPINES</text>
<text x="376.7" y="463.9" textLength="37.5" lengthAdjust="spacingAndGlyphs">MALAYSIA</text>
</g>
<g font-family="Liberation Sans, Arial, sans-serif" font-size="5.4" fill="#8c8b80">
<text x="382.2" y="337.9" textLength="31.4" lengthAdjust="spacingAndGlyphs">CHINA</text>
</g>
<g font-family="Liberation Sans, Arial, sans-serif" font-size="4" font-style="italic" fill="#7fb3d3">
<text x="19.2" y="291.4" textLength="23.0" lengthAdjust="spacingAndGlyphs">Caspian</text>
<text x="25.3" y="295.4" textLength="10.8" lengthAdjust="spacingAndGlyphs">Sea</text>
<text x="93.0" y="417.5" textLength="40.0" lengthAdjust="spacingAndGlyphs">Arabian Sea</text>
<text x="281.5" y="410.1" textLength="46.1" lengthAdjust="spacingAndGlyphs">Bay of Bengal</text>
</g>
<g font-family="Liberation Sans, Arial, sans-serif" font-size="4.1" fill="#55554f">
<text x="501.7" y="310.3" textLength="18.4" lengthAdjust="spacingAndGlyphs">Tianjin</text>
<text x="443.6" y="332.8" textLength="12.3" lengthAdjust="spacingAndGlyphs">Xi&#39;an</text>
<text x="480.2" y="350.3" textLength="18.7" lengthAdjust="spacingAndGlyphs">Wuhan</text>
</g>
<g font-family="Liberation Sans, Arial, sans-serif" font-size="4.1" font-weight="bold" fill="#3a3a36">
<text x="106.8" y="201.6" textLength="42.4" lengthAdjust="spacingAndGlyphs">Yekaterinburg</text>
<text x="262.0" y="214.9" textLength="35.0" lengthAdjust="spacingAndGlyphs">Novosibirsk</text>
<text x="182.0" y="240.3" textLength="21.0" lengthAdjust="spacingAndGlyphs">Astana</text>
<text x="-7.0" y="255.4" textLength="33.1" lengthAdjust="spacingAndGlyphs">Volgograd</text>
<text x="33.8" y="302.4" textLength="12.2" lengthAdjust="spacingAndGlyphs">Baku</text>
<text x="149.5" y="302.6" textLength="28.0" lengthAdjust="spacingAndGlyphs">Tashkent</text>
<text x="44.5" y="326.1" textLength="18.5" lengthAdjust="spacingAndGlyphs">Tehran</text>
<text x="165.8" y="331.6" textLength="17.5" lengthAdjust="spacingAndGlyphs">Kabul</text>
<text x="192.8" y="335.2" textLength="32.2" lengthAdjust="spacingAndGlyphs">Islamabad</text>
<text x="-4.1" y="337.8" textLength="25.6" lengthAdjust="spacingAndGlyphs">Baghdad</text>
<text x="202.0" y="345.4" textLength="21.2" lengthAdjust="spacingAndGlyphs">Lahore</text>
<text x="19.0" y="355.6" textLength="34.7" lengthAdjust="spacingAndGlyphs">Kuwait City</text>
<text x="221.7" y="359.2" textLength="30.7" lengthAdjust="spacingAndGlyphs">New Delhi</text>
<text x="10.7" y="379.1" textLength="21.5" lengthAdjust="spacingAndGlyphs">Riyadh</text>
<text x="70.0" y="374.2" textLength="17.5" lengthAdjust="spacingAndGlyphs">Dubai</text>
<text x="152.0" y="376.1" textLength="23.0" lengthAdjust="spacingAndGlyphs">Karachi</text>
<text x="180.5" y="384.1" textLength="36.9" lengthAdjust="spacingAndGlyphs">Ahmedabad</text>
<text x="166.4" y="401.8" textLength="24.6" lengthAdjust="spacingAndGlyphs">Mumbai</text>
<text x="199.6" y="403.8" textLength="15.3" lengthAdjust="spacingAndGlyphs">Pune</text>
<text x="230.9" y="408.1" textLength="33.1" lengthAdjust="spacingAndGlyphs">Hyderabad</text>
<text x="200.5" y="426.8" textLength="31.9" lengthAdjust="spacingAndGlyphs">Bengaluru</text>
<text x="241.0" y="425.8" textLength="24.6" lengthAdjust="spacingAndGlyphs">Chennai</text>
<text x="240.4" y="451.1" textLength="26.7" lengthAdjust="spacingAndGlyphs">Colombo</text>
<text x="2.0" y="470.9" textLength="32.7" lengthAdjust="spacingAndGlyphs">Mogadishu</text>
<text x="-0.2" y="431.8" textLength="9.8" lengthAdjust="spacingAndGlyphs">Aden</text>
<text x="295.4" y="283.9" textLength="20.8" lengthAdjust="spacingAndGlyphs">Urumqi</text>
<text x="471.9" y="304.2" textLength="20.9" lengthAdjust="spacingAndGlyphs">Beijing</text>
<text x="541.6" y="295.1" textLength="29.7" lengthAdjust="spacingAndGlyphs">Shenyang</text>
<text x="394.2" y="350.3" textLength="27.6" lengthAdjust="spacingAndGlyphs">Chengdu</text>
<text x="426.8" y="355.8" textLength="33.7" lengthAdjust="spacingAndGlyphs">Chongqing</text>
<text x="530.2" y="346.9" textLength="26.6" lengthAdjust="spacingAndGlyphs">Shanghai</text>
<text x="530.2" y="375.4" textLength="16.3" lengthAdjust="spacingAndGlyphs">Taipei</text>
<text x="479.0" y="387.4" textLength="33.4" lengthAdjust="spacingAndGlyphs">Hong Kong</text>
<text x="420.6" y="392.6" textLength="17.5" lengthAdjust="spacingAndGlyphs">Hanoi</text>
<text x="310.7" y="386.2" textLength="19.3" lengthAdjust="spacingAndGlyphs">Dhaka</text>
<text x="347.5" y="410.8" textLength="22.5" lengthAdjust="spacingAndGlyphs">Yangon</text>
<text x="362.9" y="422.8" textLength="27.0" lengthAdjust="spacingAndGlyphs">Bangkok</text>
<text x="524.7" y="419.8" textLength="20.3" lengthAdjust="spacingAndGlyphs">Manila</text>
<text x="370.6" y="433.8" textLength="39.9" lengthAdjust="spacingAndGlyphs">Phnom Penh</text>
<text x="428.3" y="436.2" textLength="20.0" lengthAdjust="spacingAndGlyphs">Ho Chi</text>
<text x="428.3" y="440.2" textLength="28.2" lengthAdjust="spacingAndGlyphs">Minh City</text>
<text x="353.7" y="469.1" textLength="32.2" lengthAdjust="spacingAndGlyphs">Shah Alam</text>
<text x="393.6" y="466.9" textLength="43.0" lengthAdjust="spacingAndGlyphs">Kuala Lumpur</text>
<text x="406.5" y="473.1" textLength="31.6" lengthAdjust="spacingAndGlyphs">Singapore</text>
</g>
<g fill="#f6f4e6" stroke="#77766e" stroke-width="0.45">
<rect x="104.4" y="202.1" width="2" height="2"/>
<rect x="259.7" y="215.2" width="2" height="2"/>
<rect x="180.0" y="240.7" width="2" height="2"/>
<rect x="166.3" y="297.4" width="2" height="2"/>
<rect x="41.7" y="326.1" width="2" height="2"/>
<rect x="164.2" y="331.9" width="2" height="2"/>
<rect x="190.9" y="335.9" width="2" height="2"/>
<rect x="200.1" y="346.0" width="2" height="2"/>
<rect x="17.4" y="355.8" width="2" height="2"/>
<rect x="220.0" y="359.5" width="2" height="2"/>
<rect x="8.3" y="378.0" width="2" height="2"/>
<rect x="69.0" y="374.9" width="2" height="2"/>
<rect x="149.4" y="376.4" width="2" height="2"/>
<rect x="188.7" y="384.0" width="2" height="2"/>
<rect x="190.9" y="401.9" width="2" height="2"/>
<rect x="197.0" y="403.4" width="2" height="2"/>
<rect x="228.7" y="408.0" width="2" height="2"/>
<rect x="224.6" y="426.6" width="2" height="2"/>
<rect x="240.6" y="426.5" width="2" height="2"/>
<rect x="239.4" y="451.6" width="2" height="2"/>
<rect x="292.2" y="283.3" width="2" height="2"/>
<rect x="493.0" y="304.8" width="2" height="2"/>
<rect x="497.6" y="308.8" width="2" height="2"/>
<rect x="539.4" y="295.0" width="2" height="2"/>
<rect x="440.2" y="332.8" width="2" height="2"/>
<rect x="406.4" y="350.3" width="2" height="2"/>
<rect x="422.7" y="355.2" width="2" height="2"/>
<rect x="477.0" y="350.3" width="2" height="2"/>
<rect x="527.1" y="347.2" width="2" height="2"/>
<rect x="527.1" y="375.8" width="2" height="2"/>
<rect x="475.5" y="387.8" width="2" height="2"/>
<rect x="418.7" y="392.7" width="2" height="2"/>
<rect x="310.5" y="382.0" width="2" height="2"/>
<rect x="350.2" y="411.1" width="2" height="2"/>
<rect x="381.9" y="423.4" width="2" height="2"/>
<rect x="523.7" y="420.3" width="2" height="2"/>
<rect x="413.5" y="433.2" width="2" height="2"/>
<rect x="424.2" y="435.7" width="2" height="2"/>
<rect x="387.0" y="467.9" width="2" height="2"/>
<rect x="404.9" y="473.4" width="2" height="2"/>
</g>
</g>
<g fill="#440154">
<path d="M21.00,314.60 L21.00,302.30 L25.60,299.10 L27.60,299.10 L28.80,301.00 L31.20,298.70 L33.00,298.70 L33.60,301.40 L35.50,302.40 L35.50,314.60Z"/>
<rect x="37.30" y="296.60" width="5.8" height="18"/>
<path d="M37.50,295.50 V293.40 Q37.50,291.80 39.10,291.80 H41.50 Q43.10,291.80 43.10,293.40 V295.50Z"/>
</g>
<g fill="#f4f0f4">
<rect x="23.90" y="305.90" width="1.7" height="1.7"/>
<rect x="23.90" y="309.60" width="1.7" height="1.7"/>
<rect x="27.50" y="305.90" width="1.7" height="1.7"/>
<rect x="27.50" y="309.60" width="1.7" height="1.7"/>
<rect x="31.10" y="305.90" width="1.7" height="1.7"/>
<rect x="31.10" y="309.60" width="1.7" height="1.7"/>
</g>
<g fill="#21918c">
<path d="M521.00,283.80 L521.00,271.50 L525.60,268.30 L527.60,268.30 L528.80,270.20 L531.20,267.90 L533.00,267.90 L533.60,270.60 L535.50,271.60 L535.50,283.80Z"/>
<rect x="537.30" y="265.80" width="5.8" height="18"/>
<path d="M537.50,264.70 V262.60 Q537.50,261.00 539.10,261.00 H541.50 Q543.10,261.00 543.10,262.60 V264.70Z"/>
</g>
<g fill="#f4f0f4">
<rect x="523.90" y="275.10" width="1.7" height="1.7"/>
<rect x="523.90" y="278.80" width="1.7" height="1.7"/>
<rect x="527.50" y="275.10" width="1.7" height="1.7"/>
<rect x="527.50" y="278.80" width="1.7" height="1.7"/>
<rect x="531.10" y="275.10" width="1.7" height="1.7"/>
<rect x="531.10" y="278.80" width="1.7" height="1.7"/>
</g>
<g fill="#fde725">
<path d="M273.50,391.60 L273.50,379.30 L278.10,376.10 L280.10,376.10 L281.30,378.00 L283.70,375.70 L285.50,375.70 L286.10,378.40 L288.00,379.40 L288.00,391.60Z"/>
<rect x="289.80" y="373.60" width="5.8" height="18"/>
<path d="M290.00,372.50 V370.40 Q290.00,368.80 291.60,368.80 H294.00 Q295.60,368.80 295.60,370.40 V372.50Z"/>
</g>
<g fill="#f4f0f4">
<rect x="276.40" y="382.90" width="1.7" height="1.7"/>
<rect x="276.40" y="386.60" width="1.7" height="1.7"/>
<rect x="280.00" y="382.90" width="1.7" height="1.7"/>
<rect x="280.00" y="386.60" width="1.7" height="1.7"/>
<rect x="283.60" y="382.90" width="1.7" height="1.7"/>
<rect x="283.60" y="386.60" width="1.7" height="1.7"/>
</g>
</g>
<g id="chart">
<rect x="722.5" y="168.5" width="1100.0" height="317.0" fill="#fff"/>
<line x1="722.5" x2="1822.5" y1="422.10" y2="422.10" stroke="#ccc" stroke-width="1"/>
<line x1="722.5" x2="1822.5" y1="358.70" y2="358.70" stroke="#ccc" stroke-width="1"/>
<line x1="722.5" x2="1822.5" y1="295.30" y2="295.30" stroke="#ccc" stroke-width="1"/>
<line x1="722.5" x2="1822.5" y1="231.90" y2="231.90" stroke="#ccc" stroke-width="1"/>
<rect x="772.50" y="277.23" width="39.22" height="208.27" fill="#3e0c4a" stroke="#fff" stroke-width="1.1"/>
<rect x="919.56" y="277.23" width="39.22" height="208.27" fill="#3e0c4a" stroke="#fff" stroke-width="1.1"/>
<rect x="958.77" y="272.79" width="39.22" height="212.71" fill="#2f837f" stroke="#fff" stroke-width="1.1"/>
<rect x="997.99" y="266.14" width="39.22" height="219.36" fill="#e2d240" stroke="#fff" stroke-width="1.1"/>
<rect x="1066.62" y="279.13" width="39.22" height="206.37" fill="#3e0c4a" stroke="#fff" stroke-width="1.1"/>
<rect x="1105.83" y="275.33" width="39.22" height="210.17" fill="#2f837f" stroke="#fff" stroke-width="1.1"/>
<rect x="1145.05" y="268.04" width="39.22" height="217.46" fill="#e2d240" stroke="#fff" stroke-width="1.1"/>
<rect x="1213.68" y="281.03" width="39.22" height="204.47" fill="#3e0c4a" stroke="#fff" stroke-width="1.1"/>
<rect x="1252.89" y="277.23" width="39.22" height="208.27" fill="#2f837f" stroke="#fff" stroke-width="1.1"/>
<rect x="1292.11" y="271.21" width="39.22" height="214.29" fill="#e2d240" stroke="#fff" stroke-width="1.1"/>
<rect x="1360.74" y="294.35" width="39.22" height="191.15" fill="#3e0c4a" stroke="#fff" stroke-width="1.1"/>
<rect x="1399.95" y="275.33" width="39.22" height="210.17" fill="#2f837f" stroke="#fff" stroke-width="1.1"/>
<rect x="1439.17" y="268.04" width="39.22" height="217.46" fill="#e2d240" stroke="#fff" stroke-width="1.1"/>
<rect x="1507.79" y="317.17" width="39.22" height="168.33" fill="#3e0c4a" stroke="#fff" stroke-width="1.1"/>
<rect x="1547.01" y="272.16" width="39.22" height="213.34" fill="#2f837f" stroke="#fff" stroke-width="1.1"/>
<rect x="1586.23" y="263.28" width="39.22" height="222.22" fill="#e2d240" stroke="#fff" stroke-width="1.1"/>
<rect x="1654.85" y="330.17" width="39.22" height="155.33" fill="#3e0c4a" stroke="#fff" stroke-width="1.1"/>
<rect x="1694.07" y="268.99" width="39.22" height="216.51" fill="#2f837f" stroke="#fff" stroke-width="1.1"/>
<rect x="1733.28" y="261.06" width="39.22" height="224.44" fill="#e2d240" stroke="#fff" stroke-width="1.1"/>
<rect x="722.5" y="168.5" width="1100.0" height="317.0" fill="none" stroke="#ccc" stroke-width="1.1"/>
<polyline points="831.32,421.78 978.38,367.26 1125.44,378.67 1272.50,340.63 1419.56,339.05 1566.62,344.75 1713.68,391.99" fill="none" stroke="#808080" stroke-width="2.5" stroke-dasharray="9.25 4" stroke-linejoin="round"/>
<g font-family="DejaVu Sans, Liberation Sans, sans-serif" font-size="10" fill="#262626" letter-spacing="-0.3">
<text x="714.4" y="489.30" text-anchor="end" letter-spacing="-0.45">0%</text>
<text x="714.4" y="425.90" text-anchor="end" letter-spacing="-0.45">20%</text>
<text x="714.4" y="362.50" text-anchor="end" letter-spacing="-0.45">40%</text>
<text x="714.4" y="299.10" text-anchor="end" letter-spacing="-0.45">60%</text>
<text x="714.4" y="235.70" text-anchor="end" letter-spacing="-0.45">80%</text>
<text x="714.4" y="172.30" text-anchor="end" letter-spacing="-0.45">100%</text>
<text x="831.32" y="500" text-anchor="middle">2025-08</text>
<text x="978.38" y="500" text-anchor="middle">2025-09</text>
<text x="1125.44" y="500" text-anchor="middle">2025-10</text>
<text x="1272.50" y="500" text-anchor="middle">2025-11</text>
<text x="1419.56" y="500" text-anchor="middle">2025-12</text>
<text x="1566.62" y="500" text-anchor="middle">2026-01</text>
<text x="1713.68" y="500" text-anchor="middle">2026-02</text>
</g>
<text transform="translate(679.6 327.5) rotate(-90)" text-anchor="middle" font-family="DejaVu Sans, Liberation Sans, sans-serif" font-size="14" fill="#262626">Production Activity</text>
</g>
</svg></body></html>
